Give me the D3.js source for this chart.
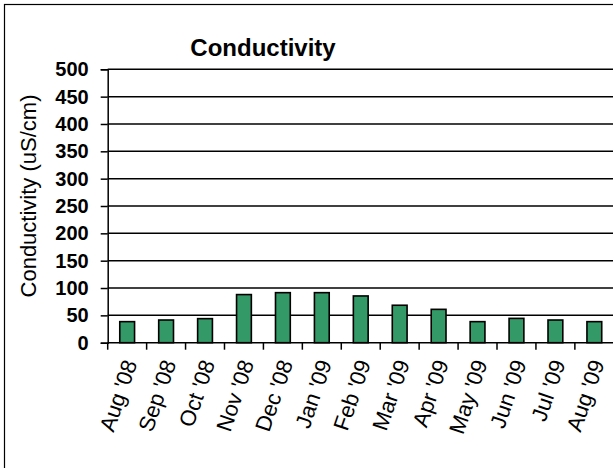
<!DOCTYPE html>
<html>
<head>
<meta charset="utf-8">
<script src="https://cdn.jsdelivr.net/npm/d3@7"></script>
<style>
  html, body { margin: 0; padding: 0; background: #fff; }
  svg { display: block; }
  text { font-family: Arial, "Liberation Sans", sans-serif; fill: #000; }
</style>
</head>
<body>
<svg id="chart" width="613" height="468"></svg>
<script>
const categories = ["Aug '08", "Sep '08", "Oct '08", "Nov '08", "Dec '08", "Jan '09", "Feb '09", "Mar '09", "Apr '09", "May '09", "Jun '09", "Jul '09", "Aug '09"];
const values = [38.5, 41.5, 44, 88, 91.5, 91.5, 85.5, 68.5, 61, 38.5, 44.5, 41.5, 38.5];
const yTicks = [0, 50, 100, 150, 200, 250, 300, 350, 400, 450, 500];
const chartTitle = "Conductivity";
const yTitle = "Conductivity (uS/cm)";

const svg = d3.select("#chart");
const pLeft = 107.7, pRight = 613.8, pTop = 69.3, pBottom = 342.7;

// outer border (chart area extends past the picture at right/bottom)
svg.append("rect").attr("x", 4.5).attr("y", 4.5).attr("width", 700).attr("height", 600)
  .attr("fill", "#fff").attr("stroke", "#000").attr("stroke-width", 1.2);

const x = d3.scaleBand().domain(categories).range([pLeft, pRight]).paddingInner(0.62).paddingOuter(0.31);
const xTickScale = d3.scaleLinear().domain([0, categories.length]).range([pLeft, pRight]);
const y = d3.scaleLinear().domain([0, 500]).range([pBottom, pTop]);

// gridlines
svg.append("g").selectAll("line").data(yTicks.filter(d => d > 0)).join("line")
  .attr("x1", pLeft).attr("x2", pRight + 10)
  .attr("y1", d => y(d)).attr("y2", d => y(d))
  .attr("stroke", "#000").attr("stroke-width", 1.5);

// y axis
const yAxis = d3.axisLeft(y).tickValues(yTicks).tickSize(7).tickPadding(12).tickFormat(d3.format("d"));
const gy = svg.append("g").attr("transform", `translate(${pLeft},0)`).call(yAxis);
gy.select(".domain").attr("stroke-width", 1.5);
gy.selectAll(".tick line").attr("stroke-width", 1.5);
gy.selectAll("text").attr("font-size", 20).attr("font-weight", "bold")
  .attr("font-family", "Arial, 'Liberation Sans', sans-serif").attr("fill", "#000");

// bars
svg.append("g").selectAll("rect").data(values).join("rect")
  .attr("x", (d, i) => x(categories[i]))
  .attr("width", x.bandwidth())
  .attr("y", d => y(d))
  .attr("height", d => y(0) - y(d))
  .attr("fill", "#339966").attr("stroke", "#000").attr("stroke-width", 1.6);

// x axis line and ticks
svg.append("line").attr("x1", pLeft).attr("x2", pRight + 10).attr("y1", pBottom).attr("y2", pBottom)
  .attr("stroke", "#000").attr("stroke-width", 1.5);
svg.append("g").selectAll("line").data(d3.range(categories.length + 1)).join("line")
  .attr("x1", d => xTickScale(d)).attr("x2", d => xTickScale(d))
  .attr("y1", pBottom).attr("y2", pBottom + 7)
  .attr("stroke", "#000").attr("stroke-width", 1.5);

// x labels
svg.append("g").selectAll("text").data(categories).join("text")
  .attr("transform", d => `translate(${x(d) + x.bandwidth() / 2 + 3},${pBottom + 18}) rotate(-71)`)
  .attr("text-anchor", "end").attr("dy", "0.35em")
  .attr("font-size", 22)
  .text(d => d);

// title
svg.append("text").attr("x", 263).attr("y", 56).attr("text-anchor", "middle")
  .attr("font-size", 24).attr("font-weight", "bold").text(chartTitle);

// y title
svg.append("text").attr("transform", `translate(36,196) rotate(-90)`)
  .attr("text-anchor", "middle").attr("font-size", 22).text(yTitle);
</script>
</body>
</html>
